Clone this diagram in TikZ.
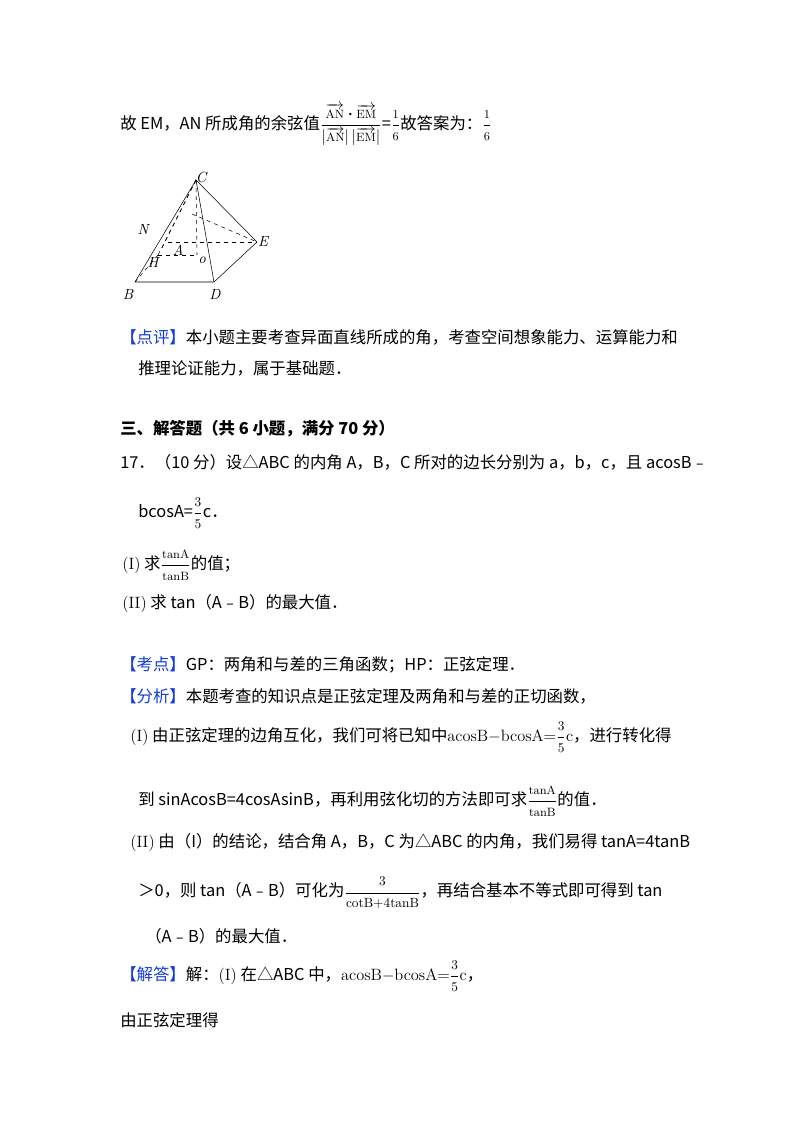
\documentclass[tikz,border=0pt]{standalone}
\usepackage{amsmath}
\usepackage{fontspec}
\setmainfont{Noto Sans CJK SC}
\newfontfamily\lm{Latin Modern Roman}
\definecolor{bl}{RGB}{20,60,220}
\newcommand{\bk}[1]{\textcolor{bl}{【#1】}}
\newcommand{\lt}[1]{\text{\lm\fontsize{10}{12}\selectfont #1}}
\newcommand{\st}[1]{\text{\lm\fontsize{9}{10}\selectfont #1}}
\newcommand{\fr}[2]{$\dfrac{\st{#1}}{\st{#2}}$}
\begin{document}
\begin{tikzpicture}[x=0.75pt,y=-0.75pt,font=\fontsize{12.3}{15}\selectfont,
 t/.style={anchor=west,inner sep=0pt},
 lbl/.style={font=\lm\fontsize{11}{12}\selectfont\itshape,inner sep=1pt}]
\useasboundingbox[fill=white] (0,0) rectangle (800,1132);
\node[t] (l1) at (120,125) {故 EM，AN 所成角的余弦值$\dfrac{\overrightarrow{\st{AN}}\boldsymbol{\cdot}\overrightarrow{\st{EM}}}{|\overrightarrow{\st{AN}}|\,|\overrightarrow{\st{EM}}|}$=\fr{1}{6}故答案为：\fr{1}{6}};
% figure
\coordinate (C) at (196,180);
\coordinate (B) at (135,282);
\coordinate (D) at (214,282);
\coordinate (E) at (257,242);
\coordinate (F) at (168,242);
\coordinate (O) at (197,255);
\coordinate (H) at (158,255);
\coordinate (M) at (192,214);
\draw (B)--(D)--(E)--(C)--(D);
\draw (B)--(C);
\draw[dashed] (F)--(E);
\draw[dashed] (C)--(O);
\draw[dashed] (H)--(O);
\draw[dashed] (M)--(E);
\draw[dashed] (C)--(H);
\draw[dashed] (C)--(162,248);
\draw[dashed] (H)--(B);
\node[lbl] (lC) at (201,177) {C};
\node[lbl] (lB) at (128,294) {B};
\node[lbl] (lD) at (215,294) {D};
\node[lbl] (lE) at (263,242) {E};
\node[lbl] (lN) at (143,229) {N};
\node[lbl] (lH) at (153,262) {H};
\node[lbl] (lA) at (178,250) {A};
\node[lbl] (lO) at (202,260) {o};
% text
\node[t] (p1) at (120,337) {\bk{点评}本小题主要考查异面直线所成的角，考查空间想象能力、运算能力和};
\node[t] (p2) at (138,368) {推理论证能力，属于基础题．};
\node[t] (s3) at (120,429) {\bfseries 三、解答题（共 6 小题，满分 70 分）};
\node[t] (q17) at (120,462) {17．（10 分）设△ABC 的内角 A，B，C 所对的边长分别为 a，b，c，且 acosB﹣};
\node[t] (q17b) at (138,513) {bcosA=$\dfrac{\lt{3}}{\lt{5}}$c．};
\node[t] (q1) at (122,565) {{\lm (I)} 求\fr{tanA}{tanB}的值；};
\node[t] (q2) at (122,604) {{\lm (II)} 求 tan（A﹣B）的最大值．};
\node[t] (k) at (120,665) {\bk{考点}GP：两角和与差的三角函数；HP：正弦定理．};
\node[t] (f) at (120,696) {\bk{分析}本题考查的知识点是正弦定理及两角和与差的正切函数，};
\node[t] (f1) at (130,737) {{\lm (I)} 由正弦定理的边角互化，我们可将已知中{\lm acosB$-$bcosA=}$\dfrac{\lt{3}}{\lt{5}}${\lm c}，进行转化得};
\node[t] (f2) at (138,801) {到 sinAcosB=4cosAsinB，再利用弦化切的方法即可求\fr{tanA}{tanB}的值．};
\node[t] (f3) at (130,843) {{\lm (II)} 由（I）的结论，结合角 A，B，C 为△ABC 的内角，我们易得 tanA=4tanB};
\node[t] (f4) at (138,893) {＞0，则 tan（A﹣B）可化为$\dfrac{\lt{3}}{\lt{cotB+4tanB}}$，再结合基本不等式即可得到 tan};
\node[t] (f5) at (145,936) {（A﹣B）的最大值．};
\node[t] (j) at (120,976) {\bk{解答}解：{\lm (I)} 在△ABC 中，{\lm acosB$-$bcosA=}$\dfrac{\lt{3}}{\lt{5}}${\lm c}，};
\node[t] (j2) at (120,1020) {由正弦定理得};
\end{tikzpicture}
\end{document}
